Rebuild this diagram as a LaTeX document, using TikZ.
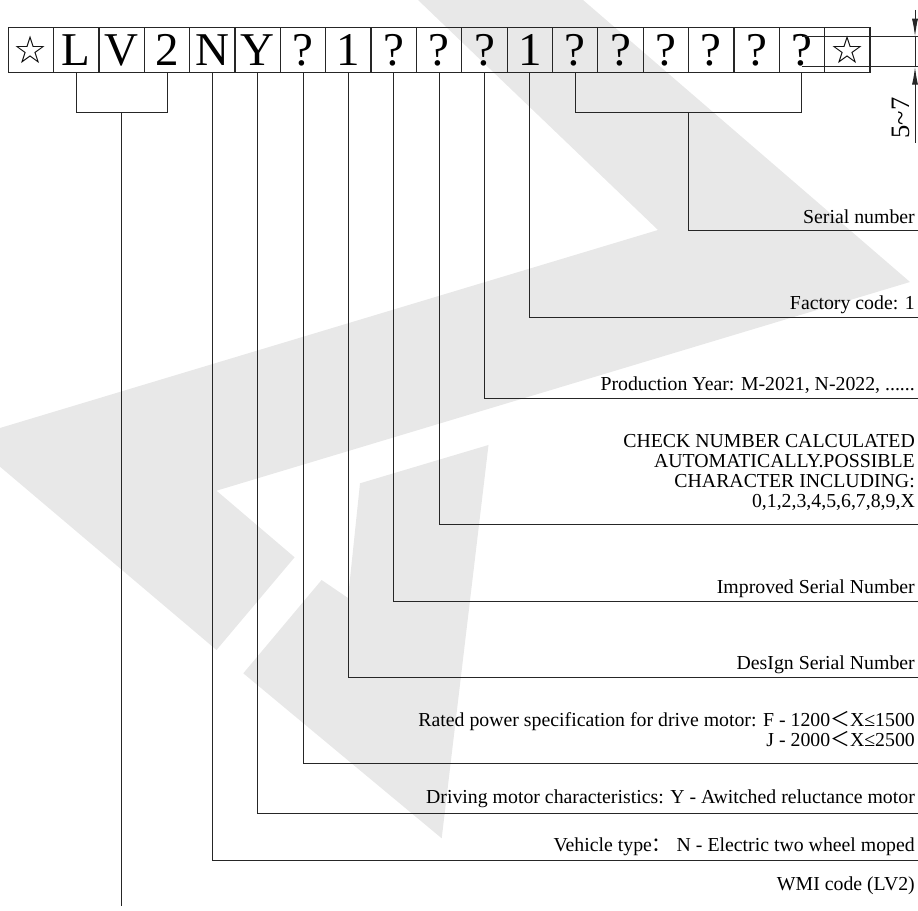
\documentclass[tikz,border=0pt]{standalone}
\usepackage{fontspec}
\setmainfont{Liberation Serif}
\newfontfamily\cjk{Noto Sans CJK SC}
\newfontfamily\starfont{DejaVu Sans}
\usetikzlibrary{arrows.meta,positioning,calc}
\definecolor{wmgrey}{HTML}{E8E8E8}
\definecolor{ink}{HTML}{262626}

\begin{document}
\begin{tikzpicture}[x=1pt, y=1pt,
  cbox/.style={rectangle, draw=ink, line width=1.2pt, minimum width=45.35pt, minimum height=45.35pt, inner sep=0pt, outer sep=0pt, font=\fontsize{47}{50}\selectfont},
  sbox/.style={cbox, font=\starfont\fontsize{38}{40}\selectfont},
  lbl/.style={font=\fontsize{19.8}{20}\selectfont, align=right, inner sep=0pt, anchor=south east, execute at end node=\strut},
  lead/.style={draw=ink, line width=1pt},
  wm/.style={fill=wmgrey, draw=none}
]
  \useasboundingbox (0,0) rectangle (918,910);
  \fill[wm] (418,910) -- (583,910) -- (910,628) -- (216.5,419.3) -- (294.6,352.7) -- (216.5,260) -- (0,443.3) -- (0,482) -- (658,680) -- cycle;
  \fill[wm] (360,426.7) -- (488.5,465) -- (441.7,71.7) -- (243.3,236.7) -- (321.6,330) -- (348,312) -- cycle;

  \node[sbox] (ch1) at (31.0,860) {☆};
  \node[cbox] (ch2) at (76.3,860) {L};
  \node[cbox] (ch3) at (121.7,860) {V};
  \node[cbox] (ch4) at (167.0,860) {2};
  \node[cbox] (ch5) at (212.4,860) {N};
  \node[cbox] (ch6) at (257.7,860) {Y};
  \node[cbox] (ch7) at (303.1,860) {?};
  \node[cbox] (ch8) at (348.4,860) {1};
  \node[cbox] (ch9) at (393.8,860) {?};
  \node[cbox] (ch10) at (439.1,860) {?};
  \node[cbox] (ch11) at (484.5,860) {?};
  \node[cbox] (ch12) at (529.8,860) {1};
  \node[cbox] (ch13) at (575.2,860) {?};
  \node[cbox] (ch14) at (620.5,860) {?};
  \node[cbox] (ch15) at (665.9,860) {?};
  \node[cbox] (ch16) at (711.2,860) {?};
  \node[cbox] (ch17) at (756.6,860) {?};
  \node[cbox] (ch18) at (801.9,860) {?};
  \node[sbox] (ch19) at (847.3,860) {☆};

  \coordinate (brW) at ($(ch2.south)!0.5!(ch4.south)+(0,-39.6)$);
  \coordinate (brS) at ($(ch13.south)!0.5!(ch18.south)+(0,-39.6)$);
  \coordinate (eW) at ($(brW)+(0,-793.7)$);
  \coordinate (eS) at (918,679.3);
  \coordinate (eF) at (918,592);
  \coordinate (eP) at (918,511.7);
  \coordinate (eC) at (918,385);
  \coordinate (eI) at (918,308.3);
  \coordinate (eD) at (918,232.5);
  \coordinate (eR) at (918,146);
  \coordinate (eY) at (918,96.7);
  \coordinate (eN) at (918,49);

  \draw[lead] (ch2.south) |- (brW) -| (ch4.south);
  \draw[lead] (brW) -- (eW);
  \draw[lead] (ch13.south) |- (brS) -| (ch18.south);
  \draw[lead] (brS) |- (eS);
  \draw[lead] (ch12.south) |- (eF);
  \draw[lead] (ch11.south) |- (eP);
  \draw[lead] (ch10.south) |- (eC);
  \draw[lead] (ch9.south) |- (eI);
  \draw[lead] (ch8.south) |- (eD);
  \draw[lead] (ch7.south) |- (eR);
  \draw[lead] (ch6.south) |- (eY);
  \draw[lead] (ch5.south) |- (eN);

  \node[lbl, above left=1pt and 3pt of eS] (tS) {Serial number};
  \node[lbl, above left=2.5pt and 3pt of eF] (tF) {Factory code: 1};
  \node[lbl, above left=2pt and 3pt of eP] (tP) {Production Year: M-2021, N-2022, ......};
  \node[lbl, above left=11pt and 3pt of eC] (tC) {CHECK NUMBER CALCULATED\\AUTOMATICALLY.POSSIBLE\\CHARACTER INCLUDING:\\0,1,2,3,4,5,6,7,8,9,X};
  \node[lbl, above left=2pt and 3pt of eI] (tI) {Improved Serial Number};
  \node[lbl, above left=2pt and 3pt of eD] (tD) {DesIgn Serial Number};
  \node[lbl, above left=11.5pt and 3pt of eR] (tR) {Rated power specification for drive motor: F - 1200{\cjk ＜}X≤1500\\J - 2000{\cjk ＜}X≤2500};
  \node[lbl, above left=3.3pt and 3pt of eY] (tY) {Driving motor characteristics: Y - Awitched reluctance motor};
  \node[lbl, above left=3pt and 3pt of eN] (tN) {Vehicle type{\cjk ：} N - Electric two wheel moped};
  \node[lbl] (tW) at (915,13) {WMI code (LV2)};

  \coordinate (dimA) at (915,873.3);
  \coordinate (dimB) at (915,843.3);
  \coordinate (dimTop) at (915,900);
  \coordinate (dimBot) at (915,767);
  \draw[lead] (ch18.center |- dimA) -- ([xshift=3pt]dimA);
  \draw[lead] (ch18.center |- dimB) -- ([xshift=3pt]dimB);
  \draw[lead] (dimA) -- (dimB);
  \draw[lead, -{Latex[length=18pt,width=6pt]}] (dimTop) -- (dimA);
  \draw[lead, -{Latex[length=18pt,width=6pt]}] (dimBot) -- (dimB);
  \node[rotate=90, inner sep=0pt, font=\fontsize{26.6}{28}\selectfont] (dimLbl) at (901,792) {5\textasciitilde7};
\end{tikzpicture}
\end{document}
